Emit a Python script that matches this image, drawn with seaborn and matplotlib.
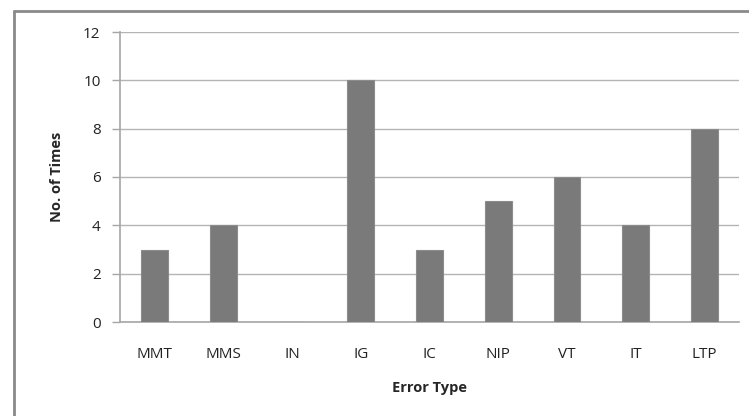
import matplotlib
matplotlib.use('Agg')
import matplotlib.pyplot as plt
import seaborn as sns
import pandas as pd
from matplotlib.lines import Line2D

# Datos
tipos_error = ['MMT', 'MMS', 'IN', 'IG', 'IC', 'NIP', 'VT', 'IT', 'LTP']
veces = [3, 4, 0, 10, 3, 5, 6, 4, 8]

df = pd.DataFrame({'tipo': tipos_error, 'veces': veces})

sns.set_theme(style="white")
plt.rcParams['font.family'] = ['Open Sans', 'DejaVu Sans']

fig = plt.figure(figsize=(7.49, 4.16), dpi=100)
ax = fig.add_axes([120 / 749, 1 - 322 / 416, 619 / 749, 290 / 416])

sns.barplot(data=df, x='tipo', y='veces', color='#7a7a7a', width=0.39,
            edgecolor='#8c8c8c', linewidth=0.8, saturation=1, ax=ax, zorder=3)

ax.set_ylim(0, 12)
ax.set_yticks(range(0, 13, 2))
ax.set_xlim(-0.5, len(tipos_error) - 0.5)
ax.yaxis.grid(True, color='#b4b4b4', linewidth=1.0, zorder=0)
ax.set_axisbelow(True)

for lado in ['top', 'right']:
    ax.spines[lado].set_visible(False)
ax.spines['left'].set_color('#a6a6a6')
ax.spines['bottom'].set_color('#a6a6a6')
ax.spines['left'].set_linewidth(1.2)
ax.spines['bottom'].set_linewidth(1.2)

ax.tick_params(axis='y', left=True, length=6, width=1.0, color='#a6a6a6',
               labelsize=11, pad=8, labelcolor='#222222')
ax.tick_params(axis='x', bottom=False, labelsize=11, pad=12, labelcolor='#222222')

ax.set_xlabel('Error Type', fontsize=10.5, fontweight='bold', labelpad=14)
ax.set_ylabel('No. of Times', fontsize=10.5, fontweight='bold', labelpad=14)

# Marco exterior (solo bordes izquierdo y superior visibles)
x0 = 13.5 / 749
y0 = 1 - 11 / 416
fig.add_artist(Line2D([x0, x0], [0, y0], transform=fig.transFigure, color='#8a8a8a', linewidth=2))
fig.add_artist(Line2D([x0, 1], [y0, y0], transform=fig.transFigure, color='#8a8a8a', linewidth=2))

plt.savefig('out.png', dpi=100)
plt.close()
